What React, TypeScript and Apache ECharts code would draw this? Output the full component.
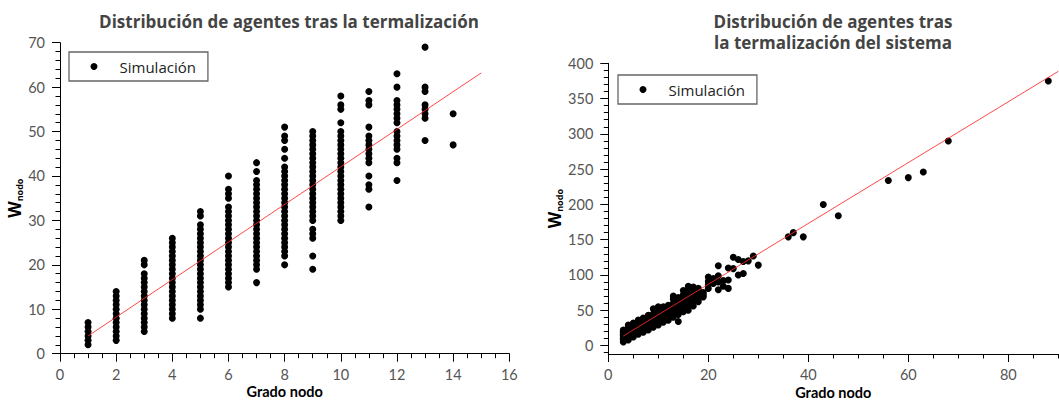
import { useEffect, useRef } from "react";
import * as echarts from "echarts";

// Left panel: node degree -> list of node weights observed at that degree
const leftColumns: [number, number[]][] = [
  [1, [2, 3, 4, 5, 6, 7]],
  [2, [3, 4, 5, 6, 7, 8, 9, 10, 11, 12, 13, 14]],
  [3, [5, 6, 7, 8, 9, 10, 11, 12, 13, 14, 15, 16, 17, 18, 20, 21]],
  [4, [8, 9, 10, 11, 12, 13, 14, 15, 16, 17, 18, 19, 20, 21, 22, 23, 24, 25, 26]],
  [5, [8, 10, 11, 12, 13, 14, 15, 16, 17, 18, 19, 20, 21, 22, 23, 24, 25, 26, 27, 28, 29, 31, 32]],
  [6, [15, 16, 17, 18, 19, 20, 21, 22, 23, 24, 25, 26, 27, 28, 29, 30, 31, 32, 33, 35, 36, 37, 40]],
  [7, [16, 19, 20, 21, 22, 23, 24, 25, 26, 27, 28, 29, 30, 31, 32, 33, 34, 35, 36, 37, 38, 39, 41, 43]],
  [8, [20, 22, 23, 24, 25, 26, 27, 28, 29, 30, 31, 32, 33, 34, 35, 36, 37, 38, 39, 40, 41, 42, 44, 46, 48, 49, 51]],
  [9, [19, 22, 26, 27, 28, 30, 31, 32, 33, 34, 35, 36, 37, 38, 39, 40, 41, 42, 43, 44, 45, 46, 47, 48, 49, 50]],
  [10, [30, 31, 32, 33, 34, 35, 36, 37, 38, 39, 40, 41, 42, 43, 44, 45, 46, 47, 48, 49, 50, 52, 55, 56, 58]],
  [11, [33, 37, 38, 40, 43, 44, 45, 46, 47, 48, 49, 51, 56, 57, 59]],
  [12, [39, 43, 44, 46, 47, 48, 49, 50, 52, 53, 54, 55, 56, 57, 60, 63]],
  [13, [48, 53, 54, 55, 56, 59, 60, 69]],
  [14, [47, 54]],
];

// Right panel: degree -> weights for the dense low-degree band
const rightColumns: [number, number[]][] = [
  [3, [5, 8, 10, 12, 14, 16, 18, 20, 22]],
  [4, [8, 11, 14, 17, 20, 23, 26, 29]],
  [5, [12, 15, 18, 21, 24, 27, 30, 32]],
  [6, [16, 19, 22, 25, 28, 31, 34, 36]],
  [7, [19, 22, 25, 28, 31, 34, 37, 39]],
  [8, [22, 25, 28, 31, 34, 37, 40, 43]],
  [9, [26, 29, 32, 35, 38, 41, 45, 52]],
  [10, [29, 32, 35, 38, 41, 44, 48, 55]],
  [11, [33, 36, 40, 44, 48, 52, 55]],
  [12, [36, 40, 44, 48, 52, 57]],
  [13, [40, 45, 50, 55, 60, 66, 70]],
  [14, [34, 44, 48, 52, 57, 62, 68]],
  [15, [48, 52, 57, 62, 67, 72, 78]],
  [16, [50, 55, 60, 66, 72, 80, 84]],
  [17, [56, 62, 68, 74, 80, 83]],
  [18, [62, 66, 72, 78, 81]],
  [19, [69, 72, 75]],
  [20, [81, 86, 91, 97]],
  [21, [88, 95]],
  [22, [79, 90, 99, 113]],
  [23, [84, 92]],
  [24, [81, 93, 110]],
  [25, [109, 125]],
  [26, [100, 122]],
  [27, [102, 119]],
  [28, [120]],
  [29, [127]],
  [30, [114]],
];

// Right panel: isolated high-degree nodes [degree, weight]
const rightHubs: [number, number][] = [
  [36, 154], [37, 160], [39, 154], [43, 200], [46, 184],
  [56, 234], [60, 238], [63, 246], [68, 290], [88, 375],
];

// Linear fits (end points of the fitted segment)
const leftFit: [number, number][] = [[1, 4.0], [15, 63.2]];
const rightFit: [number, number][] = [[3, 13.5], [90, 388.6]];

// Right panel tick positions
const rightXMajor = [0, 20, 40, 60, 80];
const rightXMinor = [5, 10, 15, 25, 30, 35, 45, 50, 55, 65, 70, 75, 85, 90];
const rightYMajor = [0, 50, 100, 150, 200, 250, 300, 350, 400];
const rightYMinor = [
  -10, 10, 20, 30, 40, 60, 70, 80, 90, 110, 120, 130, 140, 160, 170, 180, 190,
  210, 220, 230, 240, 260, 270, 280, 290, 310, 320, 330, 340, 360, 370, 380, 390,
];

const FONT = "Open Sans";
const AXIS_FONT = "Lato";
const LABEL_COLOR = "#555";
const INK = "#000";

const tickLine = { color: INK, width: 1 };

const yLabelStyle = { fontFamily: AXIS_FONT, fontSize: 14.5, color: LABEL_COLOR, margin: 15 };
const xLabelStyle = { fontFamily: AXIS_FONT, fontSize: 14.5, color: LABEL_COLOR, margin: 13 };

const xNameStyle = {
  fontFamily: AXIS_FONT,
  fontSize: 14.5,
  fontWeight: "bold" as const,
  color: INK,
};

const yNameRich = {
  rich: {
    w: { fontFamily: FONT, fontSize: 17, fontWeight: "bold" as const, color: INK, lineHeight: 20 },
    s: { fontFamily: FONT, fontSize: 9, fontWeight: "bold" as const, color: INK, lineHeight: 20, verticalAlign: "bottom" as const },
  },
};

const titleStyle = { fontFamily: FONT, fontSize: 17, fontWeight: "bold" as const, color: "#444", lineHeight: 21 };

const legendBase = {
  data: [{ name: "Simulación", icon: "circle" }],
  padding: [7, 12, 7, 21.5],
  itemWidth: 7,
  itemHeight: 7,
  borderColor: "#666",
  borderWidth: 1.3,
  backgroundColor: "#fff",
  selectedMode: false,
  textStyle: { fontFamily: FONT, fontSize: 15, lineHeight: 15, color: "#222", padding: [0, 0, 0, 17] },
};

export default function App() {
  const ref = useRef<HTMLDivElement>(null);

  useEffect(() => {
    if (!ref.current) return;
    const chart = echarts.init(ref.current, undefined, { renderer: "svg" });

    const leftPoints = leftColumns.flatMap(([k, ws]) => ws.map((w) => [k, w]));
    const rightPoints = [
      ...rightColumns.flatMap(([k, ws]) => ws.map((w) => [k, w])),
      ...rightHubs,
    ];

    chart.setOption({
      animation: false,
      backgroundColor: "#fff",
      title: [
        {
          text: "Distribución de agentes tras la termalización",
          left: 289,
          top: 11,
          padding: 0,
          textAlign: "center",
          textStyle: titleStyle,
        },
        {
          text: "Distribución de agentes tras\nla termalización del sistema",
          left: 833,
          top: 11,
          padding: 0,
          textAlign: "center",
          textStyle: titleStyle,
        },
      ],
      legend: [
        { ...legendBase, left: 69, top: 52 },
        { ...legendBase, left: 618, top: 75 },
      ],
      grid: [
        { left: 60, top: 42.7, width: 449.3, height: 311, outerBoundsMode: "none", containLabel: false },
        { left: 608.3, top: 63.3, width: 450, height: 290.7, outerBoundsMode: "none", containLabel: false },
      ],
      xAxis: [
        {
          type: "value",
          gridIndex: 0,
          min: 0,
          max: 16,
          interval: 2,
          name: "Grado nodo",
          nameLocation: "middle",
          nameGap: 30.5,
          nameMoveOverlap: false,
          nameTextStyle: xNameStyle,
          axisLine: { onZero: false, lineStyle: tickLine },
          axisTick: { length: 8, lineStyle: tickLine },
          minorTick: { show: true, splitNumber: 4, length: 4.5, lineStyle: tickLine },
          splitLine: { show: false },
          axisLabel: xLabelStyle,
        },
        {
          type: "value",
          gridIndex: 1,
          min: 0,
          max: 90,
          position: "bottom",
          name: "Grado nodo",
          nameLocation: "middle",
          nameGap: 30.5,
          nameMoveOverlap: false,
          nameTextStyle: xNameStyle,
          axisLine: { onZero: false, lineStyle: tickLine },
          axisTick: { length: 8, lineStyle: tickLine, customValues: rightXMajor },
          splitLine: { show: false },
          axisLabel: { ...xLabelStyle, customValues: rightXMajor },
        },
        {
          type: "value",
          gridIndex: 1,
          min: 0,
          max: 90,
          position: "bottom",
          axisLine: { show: false, onZero: false },
          axisTick: { length: 4.5, lineStyle: tickLine, customValues: rightXMinor },
          splitLine: { show: false },
          axisLabel: { show: false },
        },
      ],
      yAxis: [
        {
          type: "value",
          gridIndex: 0,
          min: 0,
          max: 70,
          interval: 10,
          name: "{w|W}{s|nodo}",
          nameLocation: "middle",
          nameGap: 36,
          nameMoveOverlap: false,
          nameTextStyle: yNameRich,
          axisLine: { show: true, onZero: false, lineStyle: tickLine },
          axisTick: { show: true, length: 8, lineStyle: tickLine },
          minorTick: { show: true, splitNumber: 5, length: 4.5, lineStyle: tickLine },
          splitLine: { show: false },
          axisLabel: yLabelStyle,
        },
        {
          type: "value",
          gridIndex: 1,
          min: -12,
          max: 400,
          position: "left",
          name: "{w|W}{s|nodo}",
          nameLocation: "middle",
          nameGap: 44,
          nameMoveOverlap: false,
          nameTextStyle: yNameRich,
          axisLine: { show: true, onZero: false, lineStyle: tickLine },
          axisTick: { show: true, length: 8, lineStyle: tickLine, customValues: rightYMajor },
          splitLine: { show: false },
          axisLabel: { ...yLabelStyle, customValues: rightYMajor },
        },
        {
          type: "value",
          gridIndex: 1,
          min: -12,
          max: 400,
          position: "left",
          axisLine: { show: false, onZero: false },
          axisTick: { show: true, length: 4.5, lineStyle: tickLine, customValues: rightYMinor },
          splitLine: { show: false },
          axisLabel: { show: false },
        },
      ],
      series: [
        {
          name: "Simulación",
          type: "scatter",
          xAxisIndex: 0,
          yAxisIndex: 0,
          symbol: "circle",
          symbolSize: 7,
          itemStyle: { color: INK, opacity: 1 },
          data: leftPoints,
          z: 2,
        },
        {
          name: "Ajuste",
          type: "line",
          xAxisIndex: 0,
          yAxisIndex: 0,
          showSymbol: false,
          symbol: "none",
          lineStyle: { color: "rgba(255,40,40,0.85)", width: 1 },
          data: leftFit,
          z: 3,
        },
        {
          name: "Simulación",
          type: "scatter",
          xAxisIndex: 1,
          yAxisIndex: 1,
          symbol: "circle",
          symbolSize: 7,
          itemStyle: { color: INK, opacity: 1 },
          data: rightPoints,
          z: 2,
        },
        {
          name: "Ajuste",
          type: "line",
          xAxisIndex: 1,
          yAxisIndex: 1,
          showSymbol: false,
          symbol: "none",
          lineStyle: { color: "rgba(255,40,40,0.85)", width: 1 },
          data: rightFit,
          z: 3,
        },
      ],
    });

    return () => chart.dispose();
  }, []);

  return (
    <div
      ref={ref}
      style={{ position: "absolute", left: 0, top: 0, width: 1059, height: 401 }}
    />
  );
}
